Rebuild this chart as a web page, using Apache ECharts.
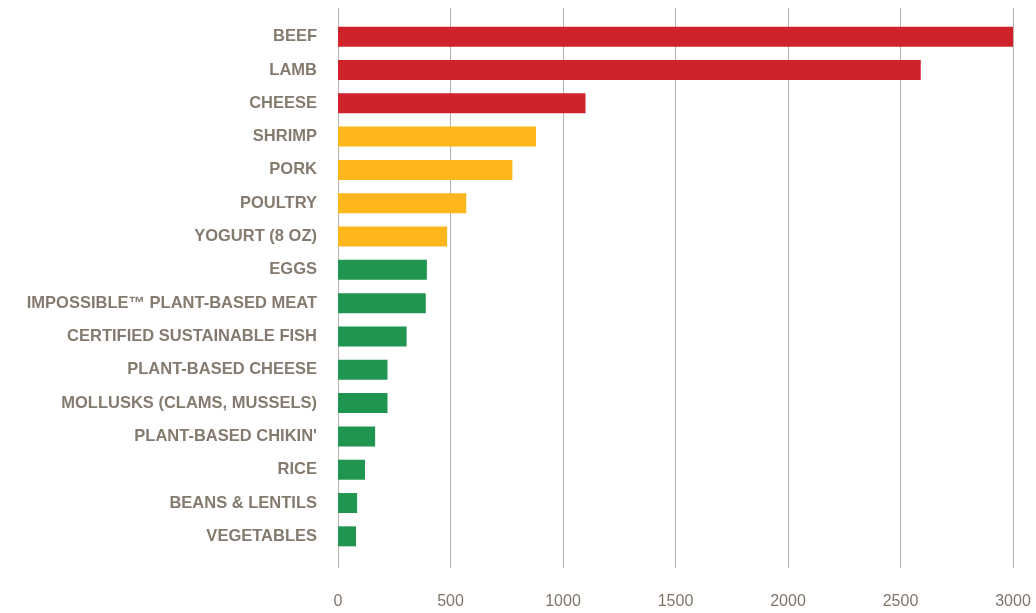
<!DOCTYPE html>
<html>
<head>
<meta charset="utf-8">
<script src="https://cdn.jsdelivr.net/npm/echarts@6/dist/echarts.min.js"></script>
<style>
  html, body { margin: 0; padding: 0; background: #ffffff; }
  #chart { width: 1036px; height: 613px; }
</style>
</head>
<body>
<div id="chart"></div>
<script>
// Foods, top to bottom
const categories = [
  'BEEF', 'LAMB', 'CHEESE', 'SHRIMP', 'PORK', 'POULTRY', 'YOGURT (8 OZ)', 'EGGS',
  'IMPOSSIBLE\u2122 PLANT-BASED MEAT', 'CERTIFIED SUSTAINABLE FISH', 'PLANT-BASED CHEESE',
  'MOLLUSKS (CLAMS, MUSSELS)', "PLANT-BASED CHIKIN'", 'RICE', 'BEANS & LENTILS', 'VEGETABLES'
];
// Value for each food
const values = [3000, 2590, 1100, 880, 775, 570, 485, 395, 390, 305, 220, 220, 165, 120, 85, 80];
// Impact tier for each food: 0 high, 1 medium, 2 low
const tiers = [0, 0, 0, 1, 1, 1, 1, 2, 2, 2, 2, 2, 2, 2, 2, 2];
const tierColors = ['#d0222a', '#fdb61b', '#1f9550'];
const xTicks = [0, 500, 1000, 1500, 2000, 2500, 3000];

const xMin = xTicks[0];
const xMax = xTicks[xTicks.length - 1];
const xStep = xTicks[1] - xTicks[0];

const chart = echarts.init(document.getElementById('chart'));
chart.setOption({
  animation: false,
  backgroundColor: '#ffffff',
  grid: [
    // bars
    { left: 338, right: 23, top: 20, bottom: 60 },
    // gridlines and tick labels, slightly taller than the bar area
    { left: 338, right: 23, top: 8, bottom: 45 }
  ],
  xAxis: [
    {
      gridIndex: 0, type: 'value', min: xMin, max: xMax, interval: xStep,
      axisLine: { show: false }, axisTick: { show: false },
      axisLabel: { show: false }, splitLine: { show: false }
    },
    {
      gridIndex: 1, type: 'value', min: xMin, max: xMax, interval: xStep,
      axisLine: { show: false }, axisTick: { show: false },
      splitLine: { show: true, lineStyle: { color: '#b9b1aa', width: 1 } },
      axisLabel: {
        margin: 26, color: '#7f756b', fontSize: 16,
        fontFamily: 'Liberation Sans, Arial, sans-serif',
        formatter: (v) => String(v)
      }
    }
  ],
  yAxis: [
    {
      gridIndex: 0, type: 'category', data: categories, inverse: true,
      axisLine: { show: false }, axisTick: { show: false },
      axisLabel: {
        margin: 21, color: '#857a6e', fontSize: 16.5, fontWeight: 'bold',
        fontFamily: 'Liberation Sans, Arial, sans-serif'
      }
    },
    {
      gridIndex: 1, type: 'value', show: false,
      axisLine: { show: false }, splitLine: { show: false }
    }
  ],
  series: [
    {
      type: 'bar',
      xAxisIndex: 0, yAxisIndex: 0,
      barWidth: 20,
      data: values.map((v, i) => ({ value: v, itemStyle: { color: tierColors[tiers[i]] } }))
    }
  ]
});
</script>
</body>
</html>
